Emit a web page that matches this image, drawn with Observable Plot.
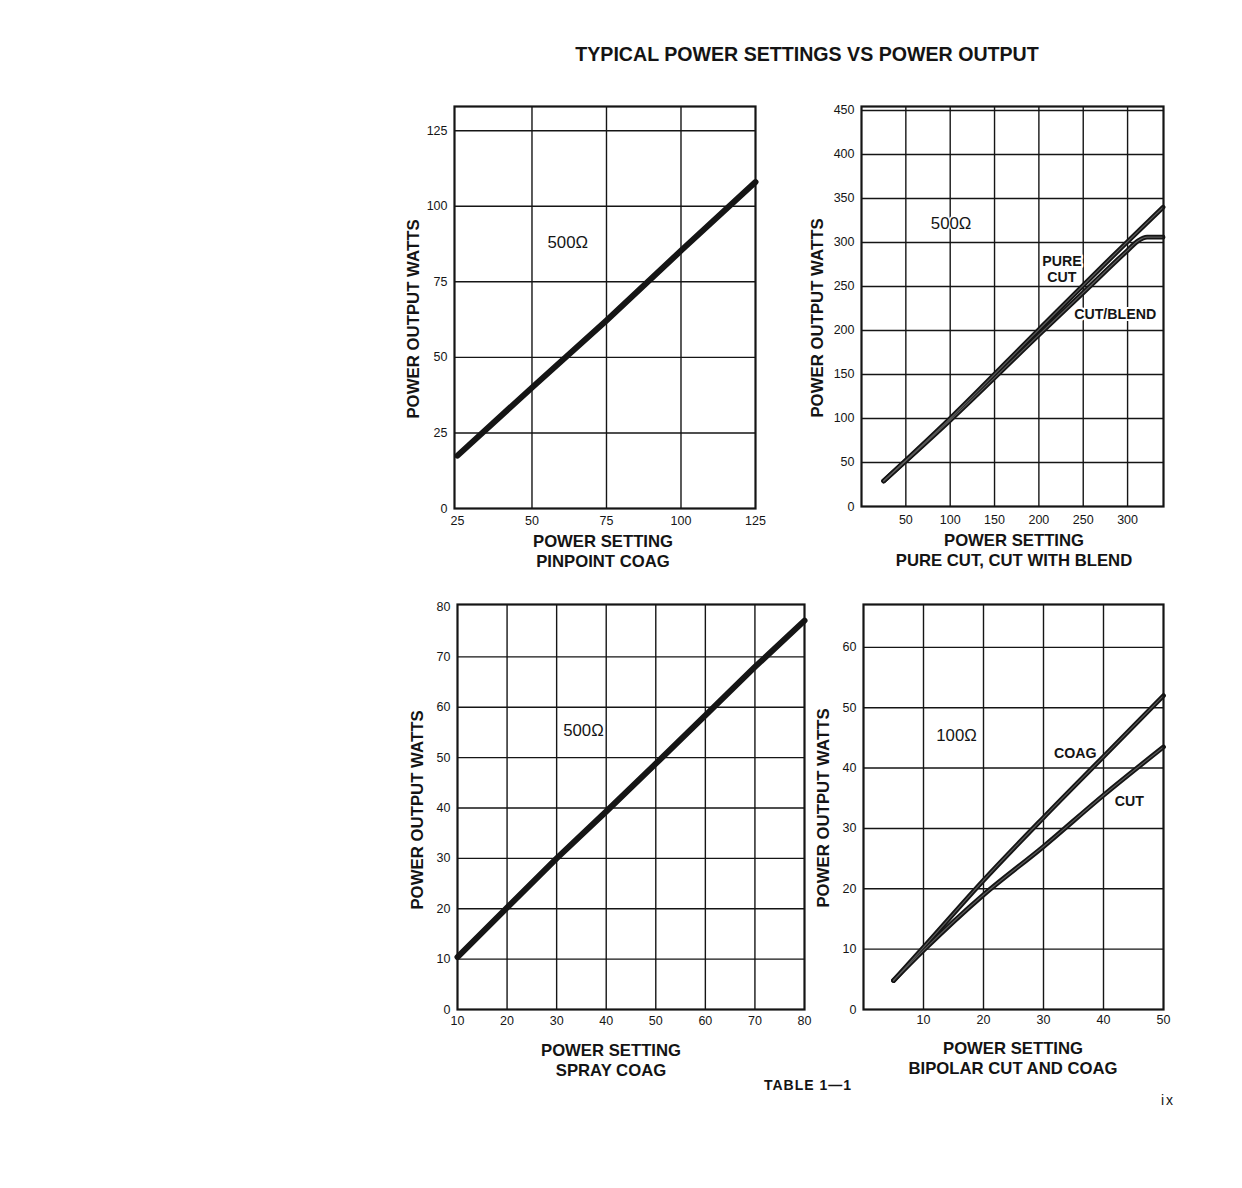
<!DOCTYPE html>
<html>
<head>
<meta charset="utf-8">
<script src="https://cdn.jsdelivr.net/npm/d3@7"></script>
<script src="https://cdn.jsdelivr.net/npm/@observablehq/plot@0.6"></script>
<style>
  html, body { margin: 0; padding: 0; background: #fff; }
  #page { position: relative; width: 1242px; height: 1188px; background: #fff; font-family: "Liberation Sans", Arial, sans-serif; color: #141414; overflow: hidden; }
  .abs { position: absolute; white-space: nowrap; }
  .ttl { font-weight: bold; font-size: 16.7px; text-align: center; line-height: 20px; transform: translateX(-50%); }
  .ylab { font-weight: bold; font-size: 16.8px; transform: translate(-50%, -50%) rotate(-90deg); }
  svg { position: absolute; overflow: visible; }
</style>
</head>
<body>
<div id="page"></div>
<script>
// ---------- data ----------
const pageTitle = "TYPICAL POWER SETTINGS VS POWER OUTPUT";
const yTitle = "POWER OUTPUT WATTS";

// Chart 1: Pinpoint coag, 500 ohm
const pinpointSetting = [25, 50, 75, 100, 125];
const pinpointOutput = [17.5, 40, 62.2, 85.3, 108];
const pinpointXTicks = [25, 50, 75, 100, 125];
const pinpointYTicks = [0, 25, 50, 75, 100, 125];

// Chart 2: Pure cut, cut with blend, 500 ohm
const pureCutSetting = [25, 100, 200, 300, 340];
const pureCutOutput = [29, 100, 201, 301, 340];
const blendSetting = [25, 100, 200, 250, 300, 312, 322, 340];
const blendOutput = [29, 98, 195, 243, 291, 302, 306, 306];
const cutXTicks = [50, 100, 150, 200, 250, 300];
const cutYTicks = [0, 50, 100, 150, 200, 250, 300, 350, 400, 450];

// Chart 3: Spray coag, 500 ohm
const spraySetting = [10, 20, 30, 40, 50, 60, 70, 80];
const sprayOutput = [10.4, 20.2, 30, 39.3, 48.8, 58.4, 68, 77.2];
const sprayXTicks = [10, 20, 30, 40, 50, 60, 70, 80];
const sprayYTicks = [0, 10, 20, 30, 40, 50, 60, 70, 80];

// Chart 4: Bipolar cut and coag, 100 ohm
const coagSetting = [5, 10, 20, 30, 40, 50];
const coagOutput = [4.8, 10.3, 21.4, 31.8, 41.9, 52];
const bipCutSetting = [5, 10, 20, 30, 40, 50];
const bipCutOutput = [4.8, 9.8, 19, 27, 35.5, 43.5];
const bipXTicks = [10, 20, 30, 40, 50];
const bipYTicks = [0, 10, 20, 30, 40, 50, 60];

// annotation labels: [text, x, y, bold]
const pinpointLabels = [["500Ω", 62, 88, false]];
const cutLabels = [["500Ω", 101, 321, false], ["PURE", 226, 279, true], ["CUT", 226, 260, true], ["CUT/BLEND", 286, 218, true]];
const sprayLabels = [["500Ω", 35.4, 55.4, false]];
const bipLabels = [["100Ω", 15.5, 45.3, false], ["COAG", 35.3, 42.5, true], ["CUT", 44.3, 34.4, true]];

// ---------- layout (frame pixel boxes) ----------
const page = document.getElementById("page");
const M = {l: 50, r: 12, t: 10, b: 30};
const INK = "#151515";

function addDiv(cls, text, x, y, extra) {
  const d = document.createElement("div");
  d.className = "abs " + cls;
  d.innerHTML = text;
  d.style.left = x + "px";
  d.style.top = y + "px";
  if (extra) Object.assign(d.style, extra);
  page.appendChild(d);
  return d;
}

function chart(cfg) {
  const w = cfg.box[1] - cfg.box[0], h = cfg.box[3] - cfg.box[2];
  const series = cfg.series.map(s => s.x.map((v, i) => ({x: v, y: s.y[i], k: s.k})));
  const labels = cfg.labels.map(([t, x, y, b]) => ({t, x, y, b}));
  const lineOpts = {x: "x", y: "y", strokeLinecap: "round", strokeLinejoin: "round", curve: cfg.curve || "linear"};
  const marks = [
    Plot.ruleX(cfg.xGrid, {stroke: INK, strokeWidth: 1.4}),
    Plot.ruleY(cfg.yGrid, {stroke: INK, strokeWidth: 1.4}),
    Plot.axisX(cfg.xTicks, {tickSize: 0, tickPadding: cfg.xPad, label: null, fontSize: 12.5, fill: INK, tickFormat: d => String(d)}),
    Plot.axisY(cfg.yTicks, {tickSize: 0, tickPadding: 7, label: null, fontSize: 12.5, fill: INK, tickFormat: d => String(d)}),
    ...series.map(s => Plot.line(s, {...lineOpts, stroke: INK, strokeWidth: cfg.sw})),
    ...(cfg.hollow ? series.map(s => Plot.line(s, {...lineOpts, stroke: "#5a5a5a", strokeWidth: 1.2})) : []),
    Plot.text(labels.filter(d => !d.b), {x: "x", y: "y", text: "t", fontSize: 16.8, fill: INK, stroke: "white", strokeWidth: 3, paintOrder: "stroke"}),
    Plot.text(labels.filter(d => d.b), {x: "x", y: "y", text: "t", fontSize: 14.2, fontWeight: "bold", fill: INK, stroke: "white", strokeWidth: 4, paintOrder: "stroke"}),
    Plot.frame({stroke: INK, strokeWidth: 2.2})
  ];
  const svg = Plot.plot({
    width: w + M.l + M.r,
    height: h + M.t + M.b,
    marginLeft: M.l, marginRight: M.r, marginTop: M.t, marginBottom: M.b,
    x: {domain: cfg.xDomain, range: [M.l, M.l + w]},
    y: {domain: cfg.yDomain, range: [M.t + h, M.t]},
    style: {fontFamily: '"Liberation Sans", Arial, sans-serif', fontSize: "12.5px", background: "transparent", color: INK, overflow: "visible"},
    marks
  });
  svg.style.left = (cfg.box[0] - M.l) + "px";
  svg.style.top = (cfg.box[2] - M.t) + "px";
  page.appendChild(svg);
  addDiv("ttl", cfg.xTitle, cfg.xTitlePos[0], cfg.xTitlePos[1]);
  addDiv("ylab", yTitle, cfg.yTitlePos[0], cfg.yTitlePos[1]);
}

// title
addDiv("", pageTitle, 807, 43, {fontWeight: "bold", fontSize: "19.6px", transform: "translateX(-50%)"});

chart({
  box: [454, 755, 106, 508],
  xDomain: [24, 125], yDomain: [0, 133],
  xGrid: [50, 75, 100], yGrid: [25, 50, 75, 100, 125],
  xTicks: pinpointXTicks, yTicks: pinpointYTicks, xPad: 8,
  series: [{x: pinpointSetting, y: pinpointOutput, k: "coag"}],
  labels: pinpointLabels, sw: 6,
  xTitle: "POWER SETTING<br>PINPOINT COAG", xTitlePos: [603, 532],
  yTitlePos: [414, 319]
});

chart({
  box: [861, 1163, 106, 506],
  xDomain: [0, 340.5], yDomain: [0, 454.5],
  xGrid: cutXTicks, yGrid: cutYTicks.slice(1),
  xTicks: cutXTicks, yTicks: cutYTicks, xPad: 9,
  series: [{x: pureCutSetting, y: pureCutOutput, k: "pure"}, {x: blendSetting, y: blendOutput, k: "blend"}],
  labels: cutLabels, sw: 4.8, curve: "monotone-x", hollow: true,
  xTitle: "POWER SETTING<br>PURE CUT, CUT WITH BLEND", xTitlePos: [1014, 531],
  yTitlePos: [818, 318]
});

chart({
  box: [457, 804, 604, 1009],
  xDomain: [10, 80], yDomain: [0, 80.4],
  xGrid: sprayXTicks.slice(1, -1), yGrid: sprayYTicks.slice(1, -1),
  xTicks: sprayXTicks, yTicks: sprayYTicks, xPad: 7,
  series: [{x: spraySetting, y: sprayOutput, k: "spray"}],
  labels: sprayLabels, sw: 6,
  xTitle: "POWER SETTING<br>SPRAY COAG", xTitlePos: [611, 1041],
  yTitlePos: [418, 810]
});

chart({
  box: [863, 1163, 604, 1009],
  xDomain: [0, 50], yDomain: [0, 67.1],
  xGrid: bipXTicks.slice(0, -1), yGrid: bipYTicks.slice(1),
  xTicks: bipXTicks, yTicks: bipYTicks, xPad: 6,
  series: [{x: coagSetting, y: coagOutput, k: "coag"}, {x: bipCutSetting, y: bipCutOutput, k: "cut"}],
  labels: bipLabels, sw: 4.8, curve: "monotone-x", hollow: true,
  xTitle: "POWER SETTING<br>BIPOLAR CUT AND COAG", xTitlePos: [1013, 1039],
  yTitlePos: [824, 808]
});

addDiv("", "TABLE 1—1", 808, 1077, {fontSize: "14px", fontWeight: "bold", letterSpacing: "1px", transform: "translateX(-50%)"});
addDiv("", "ix", 1168, 1092, {fontSize: "14px", letterSpacing: "2px", transform: "translateX(-50%)"});
</script>
</body>
</html>
